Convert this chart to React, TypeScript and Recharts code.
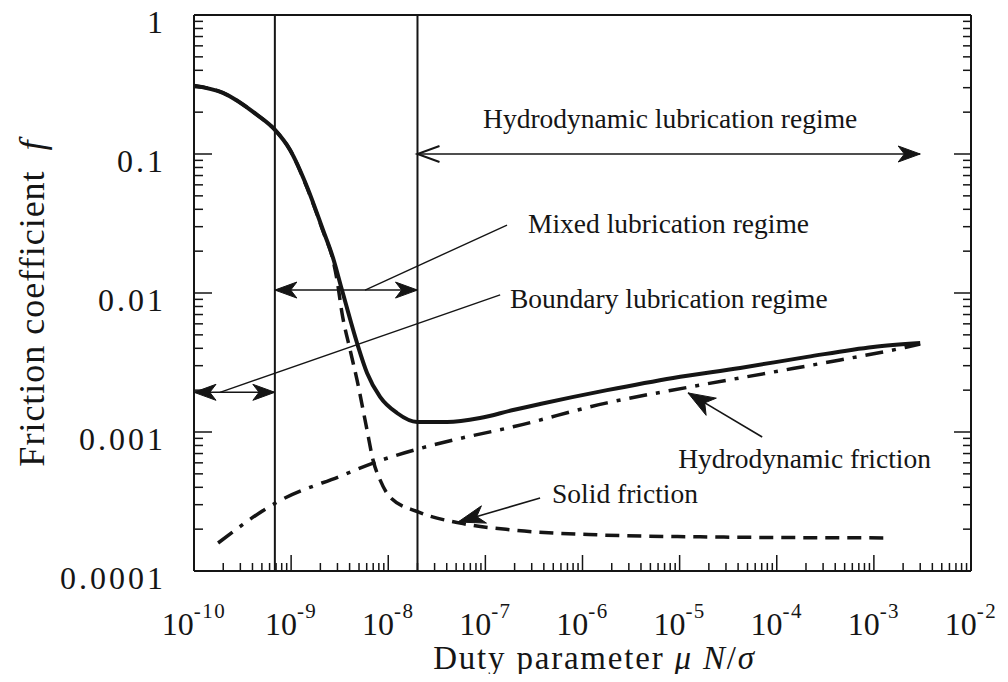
import React from 'react';
import { LineChart, Line, XAxis, YAxis, ReferenceLine, ReferenceDot } from 'recharts';

const FONT = '"Liberation Serif", "Times New Roman", serif';
const INK = '#151515';

// Duty parameter μN/σ decades and their exponent labels
const dutyDecades = [1e-10, 1e-9, 1e-8, 1e-7, 1e-6, 1e-5, 1e-4, 1e-3, 1e-2];
const dutyExponents = ['-10', '-9', '-8', '-7', '-6', '-5', '-4', '-3', '-2'];

// Friction coefficient decades and their labels
const frictionDecades = [1e-4, 1e-3, 1e-2, 1e-1, 1];
const frictionLabels = ['0.0001', '0.001', '0.01', '0.1', '1'];

// Total friction coefficient (solid curve)
const totalDuty = [1e-10, 1.99e-10, 4.46e-10, 6.82e-10, 9.75e-10, 1.46e-9, 2.13e-9, 2.7e-9, 3.34e-9, 4.77e-9, 6.05e-9, 8.24e-9, 1.23e-8, 1.98e-8, 4.04e-8, 8.8e-8, 1.93e-7, 3.66e-7, 1.79e-6, 8.57e-6, 4.2e-5, 2.06e-4, 9.84e-4, 3.0e-3];
const totalFriction = [0.31, 0.275, 0.191, 0.149, 0.107, 0.058, 0.0284, 0.0179, 0.0105, 0.00437, 0.00266, 0.00179, 0.00137, 0.00118, 0.00118, 0.00126, 0.00144, 0.00159, 0.002, 0.00245, 0.00289, 0.00347, 0.00409, 0.00437];

// Solid (asperity contact) friction (dashed curve)
const solidDuty = [1e-10, 1.99e-10, 4.46e-10, 6.82e-10, 9.75e-10, 1.46e-9, 2.13e-9, 2.7e-9, 2.97e-9, 3.34e-9, 4.05e-9, 4.77e-9, 6.05e-9, 6.97e-9, 8.24e-9, 1.04e-8, 2.03e-8, 5.48e-8, 1.93e-7, 1.41e-6, 1.63e-5, 1.31e-3];
const solidFriction = [0.31, 0.275, 0.191, 0.149, 0.107, 0.057, 0.0278, 0.0172, 0.0124, 0.00718, 0.00389, 0.00237, 0.00103, 0.000629, 0.000452, 0.000341, 0.000266, 0.000221, 0.000197, 0.000182, 0.000176, 0.000173];

// Hydrodynamic friction (dash-dot curve)
const hydroDuty = [1.77e-10, 7.16e-10, 3.43e-9, 6.97e-9, 2.03e-8, 4.65e-8, 1.93e-7, 1.79e-6, 1.28e-5, 9.18e-5, 4.5e-4, 2.2e-3, 3.0e-3];
const hydroFriction = [0.000159, 0.000313, 0.00049, 0.000598, 0.000755, 0.000875, 0.00109, 0.00162, 0.00211, 0.0027, 0.0033, 0.00409, 0.0043];

// Boundaries between the boundary / mixed / hydrodynamic regimes
const regimeBounds = [6.8e-10, 2e-8];

type Head = 'none' | 'open' | 'filled';
type Arrow = { from: [number, number]; to: [number, number]; start: Head; end: Head; len: number; half: number; width: number };

// Regime span arrows, leader lines and pointer arrows, in (duty, friction) coordinates
const arrows: Arrow[] = [
  { from: [2e-8, 0.1], to: [3.0e-3, 0.1], start: 'open', end: 'filled', len: 22, half: 8, width: 1.6 },
  { from: [6.8e-10, 0.0105], to: [2e-8, 0.0105], start: 'filled', end: 'filled', len: 22, half: 8, width: 1.6 },
  { from: [1e-10, 0.00193], to: [6.8e-10, 0.00193], start: 'filled', end: 'filled', len: 22, half: 8, width: 1.6 },
  { from: [5.77e-9, 0.0105], to: [1.67e-7, 0.0308], start: 'none', end: 'none', len: 0, half: 0, width: 1.4 },
  { from: [1.85e-10, 0.00193], to: [1.42e-7, 0.00968], start: 'none', end: 'none', len: 0, half: 0, width: 1.4 },
  { from: [7.08e-5, 0.00092], to: [1.22e-5, 0.00191], start: 'none', end: 'filled', len: 27, half: 10, width: 1.6 },
  { from: [3.66e-7, 0.000335], to: [5.23e-8, 0.000225], start: 'none', end: 'filled', len: 27, half: 9, width: 1.6 },
];

// Text annotations, anchored at their left baseline point
const annotations = [
  { text: 'Hydrodynamic lubrication regime', duty: 9.46e-8, f: 0.154 },
  { text: 'Mixed lubrication regime', duty: 2.75e-7, f: 0.027 },
  { text: 'Boundary lubrication regime', duty: 1.79e-7, f: 0.0078 },
  { text: 'Hydrodynamic friction', duty: 9.66e-6, f: 0.000551 },
  { text: 'Solid friction', duty: 4.86e-7, f: 0.000308 },
];

const toSeries = (xs: number[], ys: number[]) => xs.map((x, i) => ({ x, f: ys[i] }));
const totalSeries = toSeries(totalDuty, totalFriction);
const solidSeries = toSeries(solidDuty, solidFriction);
const hydroSeries = toSeries(hydroDuty, hydroFriction);

const withMinors = (decades: number[]) => {
  const out: number[] = [];
  decades.forEach((d, i) => {
    out.push(d);
    if (i < decades.length - 1) for (let m = 2; m <= 9; m++) out.push(m * d);
  });
  return out;
};
const dutyTicks = withMinors(dutyDecades);
const frictionTicks = withMinors(frictionDecades);

const isMajor = (v: number) => Math.abs(Math.log10(v) - Math.round(Math.log10(v))) < 1e-6;
const indexIn = (arr: number[], v: number) => arr.findIndex((d) => Math.abs(d - v) / d < 1e-6);

function BottomTick(props: any) {
  const { x, y, payload } = props;
  const v = payload.value;
  const i = indexIn(dutyDecades, v);
  return (
    <g>
      <line x1={x} x2={x} y1={y} y2={y - (isMajor(v) ? 16 : 8)} stroke={INK} strokeWidth={1.5} />
      {i >= 0 && (
        <text x={x} y={y + 64} textAnchor="middle" fontFamily={FONT} fill={INK}>
          <tspan fontSize={32}>10</tspan>
          <tspan fontSize={21} dy={-17} letterSpacing={1.5}>{dutyExponents[i]}</tspan>
        </text>
      )}
    </g>
  );
}

function TopTick(props: any) {
  const { x, y, payload } = props;
  return <line x1={x} x2={x} y1={y} y2={y + (isMajor(payload.value) ? 16 : 8)} stroke={INK} strokeWidth={1.5} />;
}

function LeftTick(props: any) {
  const { x, y, payload } = props;
  const v = payload.value;
  const i = indexIn(frictionDecades, v);
  return (
    <g>
      <line x1={x} x2={x + (isMajor(v) ? 18 : 9)} y1={y} y2={y} stroke={INK} strokeWidth={1.5} />
      {i >= 0 && (
        <text x={x - 28} y={y + 18} textAnchor="end" fontFamily={FONT} fontSize={32} letterSpacing={3} fill={INK}>
          {frictionLabels[i]}
        </text>
      )}
    </g>
  );
}

function RightTick(props: any) {
  const { x, y, payload } = props;
  return <line x1={x} x2={x - (isMajor(payload.value) ? 17 : 8)} y1={y} y2={y} stroke={INK} strokeWidth={1.5} />;
}

function arrowHead(tx: number, ty: number, fx: number, fy: number, kind: Head, len: number, half: number) {
  if (kind === 'none') return null;
  const d = Math.hypot(tx - fx, ty - fy) || 1;
  const ux = (tx - fx) / d;
  const uy = (ty - fy) / d;
  const nx = -uy;
  const ny = ux;
  const bx = tx - ux * len;
  const by = ty - uy * len;
  if (kind === 'open') {
    return (
      <polyline
        points={`${bx + nx * half},${by + ny * half} ${tx},${ty} ${bx - nx * half},${by - ny * half}`}
        fill="none"
        stroke={INK}
        strokeWidth={2}
      />
    );
  }
  const mx = tx - ux * len * 0.72;
  const my = ty - uy * len * 0.72;
  return (
    <polygon
      points={`${tx},${ty} ${bx + nx * half},${by + ny * half} ${mx},${my} ${bx - nx * half},${by - ny * half}`}
      fill={INK}
      stroke={INK}
      strokeWidth={1}
    />
  );
}

const arrowShape = (a: Arrow) => (p: any) => {
  const { x1, y1, x2, y2 } = p;
  return (
    <g>
      <line x1={x1} y1={y1} x2={x2} y2={y2} stroke={INK} strokeWidth={a.width} />
      {arrowHead(x1, y1, x2, y2, a.start, a.len, a.half)}
      {arrowHead(x2, y2, x1, y1, a.end, a.len, a.half)}
    </g>
  );
};

const textShape = (text: string) => (p: any) => (
  <text x={p.cx} y={p.cy} fontFamily={FONT} fontSize={27.5} fill={INK}>
    {text}
  </text>
);

const xTitle = (p: any) => {
  const vb = p.viewBox;
  return (
    <text x={vb.x + vb.width / 2 + 12} y={vb.y + 98} textAnchor="middle" fontFamily={FONT} fontSize={33} letterSpacing={1.8} fill={INK}>
      Duty parameter <tspan fontStyle="italic">μ</tspan> <tspan fontStyle="italic">N</tspan>/<tspan fontStyle="italic">σ</tspan>
    </text>
  );
};

const yTitle = (p: any) => {
  const vb = p.viewBox;
  const cx = vb.x + 44;
  const cy = vb.y + vb.height / 2 + 10;
  return (
    <text x={cx} y={cy} transform={`rotate(-90 ${cx} ${cy})`} textAnchor="middle" fontFamily={FONT} fontSize={36} letterSpacing={1} fill={INK}>
      Friction coefficient<tspan dx={20} fontStyle="italic">f</tspan>
    </text>
  );
};

const frame = { stroke: INK, strokeWidth: 2 };

export default function App() {
  return (
    <div style={{ margin: -8, width: 1008, height: 682, background: '#fff' }}>
      <LineChart width={1008} height={682} margin={{ top: 15, right: 37, bottom: 0, left: 0 }}>
        <XAxis
          xAxisId="main"
          type="number"
          dataKey="x"
          scale="log"
          domain={[1e-10, 1e-2]}
          allowDataOverflow
          ticks={dutyTicks}
          interval={0}
          tick={<BottomTick />}
          tickLine={false}
          tickSize={0}
          tickMargin={0}
          axisLine={frame}
          height={111}
          label={{ content: xTitle }}
        />
        <XAxis
          xAxisId="top"
          orientation="top"
          mirror
          type="number"
          scale="log"
          domain={[1e-10, 1e-2]}
          allowDataOverflow
          ticks={dutyTicks}
          interval={0}
          tick={<TopTick />}
          tickLine={false}
          tickSize={0}
          tickMargin={0}
          axisLine={frame}
          height={1}
        />
        <YAxis
          yAxisId="main"
          type="number"
          scale="log"
          domain={[1e-4, 1]}
          allowDataOverflow
          ticks={frictionTicks}
          interval={0}
          tick={<LeftTick />}
          tickLine={false}
          tickSize={0}
          tickMargin={0}
          axisLine={frame}
          width={194}
          label={{ content: yTitle }}
        />
        <YAxis
          yAxisId="right"
          orientation="right"
          mirror
          type="number"
          scale="log"
          domain={[1e-4, 1]}
          allowDataOverflow
          ticks={frictionTicks}
          interval={0}
          tick={<RightTick />}
          tickLine={false}
          tickSize={0}
          tickMargin={0}
          axisLine={frame}
          width={1}
        />

        {regimeBounds.map((b) => (
          <ReferenceLine key={b} x={b} xAxisId="main" yAxisId="main" stroke={INK} strokeWidth={2} ifOverflow="visible" />
        ))}

        <Line data={hydroSeries} dataKey="f" xAxisId="main" yAxisId="main" type="monotone" stroke={INK} strokeWidth={3.5} strokeDasharray="18 9 4 9" dot={false} activeDot={false} isAnimationActive={false} />
        <Line data={solidSeries} dataKey="f" xAxisId="main" yAxisId="main" type="monotone" stroke={INK} strokeWidth={3.5} strokeDasharray="14 8" dot={false} activeDot={false} isAnimationActive={false} />
        <Line data={totalSeries} dataKey="f" xAxisId="main" yAxisId="main" type="monotone" stroke={INK} strokeWidth={4} dot={false} activeDot={false} isAnimationActive={false} />

        {arrows.map((a, i) => (
          <ReferenceLine
            key={`arrow-${i}`}
            xAxisId="main"
            yAxisId="main"
            ifOverflow="visible"
            segment={[
              { x: a.from[0], y: a.from[1] },
              { x: a.to[0], y: a.to[1] },
            ]}
            shape={arrowShape(a)}
          />
        ))}

        {annotations.map((a) => (
          <ReferenceDot key={a.text} x={a.duty} y={a.f} r={0} xAxisId="main" yAxisId="main" ifOverflow="visible" shape={textShape(a.text)} />
        ))}
      </LineChart>
    </div>
  );
}
